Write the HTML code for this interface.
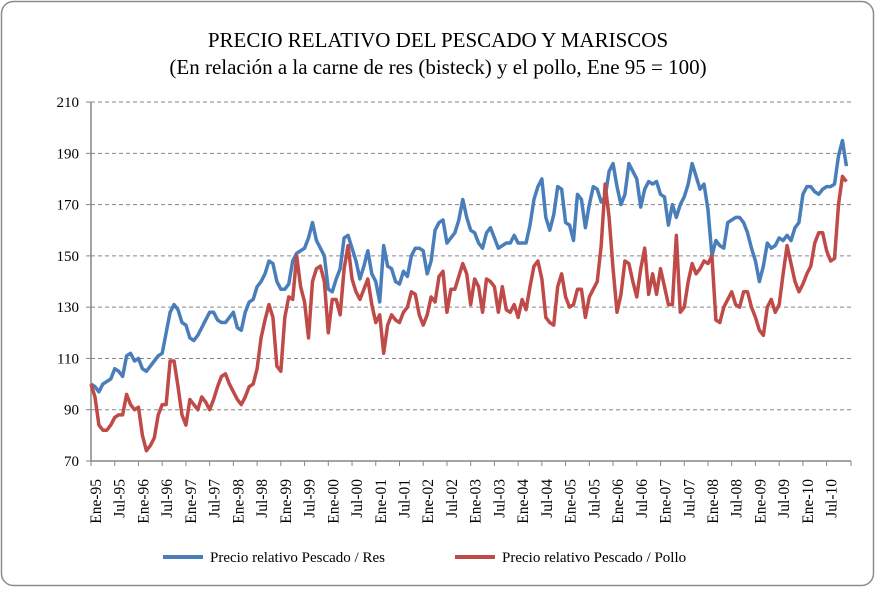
<!DOCTYPE html>
<html><head><meta charset="utf-8"><style>
body{margin:0;background:#fff;}
svg text{font-family:"Liberation Serif",serif;}
</style></head><body>
<svg id="chart" width="876" height="588" xmlns="http://www.w3.org/2000/svg">
<rect x="1.5" y="1.5" width="872" height="584" rx="12" fill="#fff" stroke="#8c8c8c" stroke-width="1.5"/>
<text x="438" y="47" text-anchor="middle" font-size="21">PRECIO RELATIVO DEL PESCADO Y MARISCOS</text>
<text x="438" y="74" text-anchor="middle" font-size="21">(En relación a la carne de res (bisteck) y el pollo, Ene 95 = 100)</text>
<g id="grid"></g><g id="axes"></g><g id="series"></g>
<g>
<line x1="163" y1="557" x2="203" y2="557" stroke="#4a7ebb" stroke-width="4"/>
<text x="210" y="562" font-size="15">Precio relativo Pescado / Res</text>
<line x1="455" y1="557" x2="495" y2="557" stroke="#be4b48" stroke-width="4"/>
<text x="502" y="562" font-size="15">Precio relativo Pescado / Pollo</text>
</g>
</svg>
<script>
const yTicks=[70,90,110,130,150,170,190,210];
const years=["95","96","97","98","99","00","01","02","03","04","05","06","07","08","09","10"];
const res=[100,99,97,100,101,102,106,105,103,111,112,109,
110,106,105,107,109,111,112,120,128,131,129,124,
123,118,117,119,122,125,128,128,125,124,124,126,
128,122,121,128,132,133,138,140,143,148,147,140,
137,137,139,148,151,152,153,157,163,156,153,150,
137,136,141,145,157,158,153,148,141,146,152,143,
140,132,154,146,145,140,139,144,142,150,153,153,
152,143,148,160,163,164,155,157,159,164,172,165,
160,159,155,153,159,161,157,153,154,155,155,158,
155,155,155,162,172,177,180,165,160,166,177,176,
163,162,156,174,172,161,170,177,176,171,173,183,
186,177,170,174,186,183,180,169,176,179,178,179,
174,173,162,170,165,170,173,178,186,181,176,178,
168,150,156,154,153,163,164,165,165,163,159,153,
148,140,146,155,153,154,157,156,158,156,161,163,
174,177,177,175,174,176,177,177,178,189,195,185];
const pollo=[100,95,84,82,82,84,87,88,88,96,92,90,
91,80,74,76,79,88,92,92,109,109,99,88,
84,94,92,90,95,93,90,94,99,103,104,100,
97,94,92,95,99,100,106,118,125,131,126,107,
105,126,134,133,150,138,132,118,140,145,146,140,
120,133,133,127,145,154,141,136,133,137,141,131,
124,127,112,123,127,125,124,128,130,136,135,127,
123,127,134,132,142,144,128,137,137,142,147,143,
131,141,138,128,141,140,138,128,138,129,128,131,
126,133,129,138,146,148,141,126,124,123,138,143,
134,130,131,137,137,126,134,137,140,154,178,165,
145,128,135,148,147,140,134,145,153,135,143,135,
145,138,131,131,158,128,130,140,147,143,145,148,
147,150,125,124,130,133,136,131,130,136,136,130,
126,121,119,130,133,128,131,143,154,147,140,136,
139,143,146,155,159,159,152,148,149,170,181,179];
const X0=91,STEP=3.955,YB=461,PX=2.564;
const xs=i=>X0+i*STEP, ys=v=>YB-(v-70)*PX;
const NS="http://www.w3.org/2000/svg";
function mk(t,a,p){const e=document.createElementNS(NS,t);for(const k in a)e.setAttribute(k,a[k]);p.appendChild(e);return e;}
const grid=document.getElementById('grid'),axes=document.getElementById('axes'),ser=document.getElementById('series');
yTicks.forEach(v=>{
 if(v>70){const g=mk('line',{x1:X0,x2:851,y1:ys(v),y2:ys(v),stroke:'#868686','stroke-dasharray':'4,3','stroke-width':1},grid);
 
 }
 const t=mk('text',{x:79,y:ys(v)+5,'text-anchor':'end','font-size':15},axes);t.textContent=v;
 
 
 const tk=mk('line',{x1:X0-5,x2:X0,y1:ys(v),y2:ys(v),stroke:'#868686'},axes);
 
 
});
const ya=mk('line',{x1:X0,x2:X0,y1:ys(210),y2:YB,stroke:'#868686','stroke-width':1.5},axes);


const xa=mk('line',{x1:X0,x2:851,y1:YB,y2:YB,stroke:'#868686','stroke-width':1.5},axes);


years.forEach((y,k)=>{["Ene","Jul"].forEach((m,j)=>{
 const i=k*12+j*6,x=xs(i);
 const tk=mk('line',{x1:x,x2:x,y1:YB,y2:YB+5,stroke:'#868686'},axes);
 
 
 const t=mk('text',{x:0,y:0,'text-anchor':'end','font-size':15.5,transform:`translate(${x+10},${YB+18}) rotate(-90)`},axes);
 t.textContent=m+'-'+y;
 
 
});});
mk('line',{x1:851,x2:851,y1:YB,y2:YB+5,stroke:'#868686'},axes);
function line(arr,c,name){
 const p=mk('polyline',{points:arr.map((v,i)=>xs(i)+','+ys(v)).join(' '),fill:'none',stroke:c,'stroke-width':3.5,'stroke-linejoin':'round'},ser);
 
 
}
line(res,'#4a7ebb','series-res');
line(pollo,'#be4b48','series-pollo');
</script>
</body></html>
